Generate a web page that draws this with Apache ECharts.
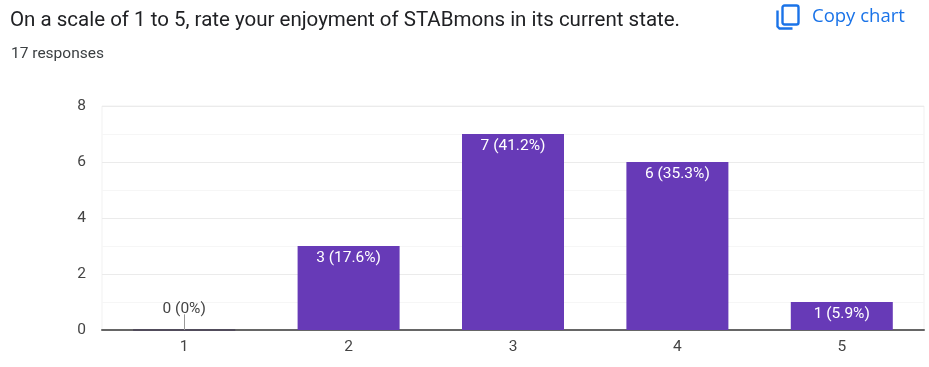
<!DOCTYPE html>
<html>
<head>
<meta charset="utf-8">
<style>
html,body{margin:0;padding:0;background:#fff;}
#main{width:929px;height:367px;}
</style>
<script src="https://cdn.jsdelivr.net/npm/echarts@6/dist/echarts.min.js"></script>
</head>
<body>
<div id="main"></div>
<script>
var categories = ['1', '2', '3', '4', '5'];
var responses = [0, 3, 7, 6, 1];
var barLabels = ['0 (0%)', '3 (17.6%)', '7 (41.2%)', '6 (35.3%)', '1 (5.9%)'];
var stemHeight = [0.56];
var titleText = 'On a scale of 1 to 5, rate your enjoyment of STABmons in its current state.';
var subText = '17 responses';

var myChart = echarts.init(document.getElementById('main'), null, {renderer: 'canvas'});

var barData = responses.map(function (v, i) {
    if (v === 0) {
        return {
            value: v,
            itemStyle: {borderColor: '#4a4458', borderWidth: 1},
            label: {position: 'top', distance: 12, color: '#444'}
        };
    }
    return v;
});

var option = {
    animation: false,
    textStyle: {fontFamily: 'Roboto'},
    graphic: [
        {type: 'text', left: 10, top: 10, style: {text: titleText, fill: '#202124',
            font: '20.5px Roboto'}},
        {type: 'text', left: 11, top: 46, style: {text: subText, fill: '#3c4043',
            font: '15.5px Roboto'}},
        {type: 'rect', left: 780, top: 3, shape: {width: 16, height: 19, r: 2},
            style: {fill: 'none', stroke: '#1a73e8', lineWidth: 2.4}},
        {type: 'polyline', left: 775, top: 8, shape: {points: [[1, 0], [1, 16], [3, 18], [16, 18]]},
            style: {fill: 'none', stroke: '#1a73e8', lineWidth: 2.4}},
        {type: 'text', left: 812, top: 7, style: {text: 'Copy chart', fill: '#1a73e8',
            font: '500 18.5px "Open Sans"'}}
    ],
    grid: {left: 102, right: 5, top: 106, bottom: 37, show: true, borderColor: '#f1f1f1', borderWidth: 1},
    xAxis: {
        type: 'category',
        data: categories,
        axisTick: {show: false},
        axisLine: {lineStyle: {color: '#666', width: 2}},
        axisLabel: {color: '#444', fontSize: 15.5, margin: 9}
    },
    yAxis: {
        type: 'value',
        min: 0,
        max: 8,
        interval: 2,
        axisLine: {show: false},
        axisTick: {show: false},
        axisLabel: {color: '#444', fontSize: 15.5, margin: 16},
        splitLine: {lineStyle: {color: '#ebebeb', width: 1}},
        minorTick: {show: false, splitNumber: 2},
        minorSplitLine: {show: true, lineStyle: {color: '#f6f6f6', width: 1}}
    },
    series: [{
        type: 'bar',
        data: barData,
        barWidth: 102,
        itemStyle: {color: '#673ab7'},
        label: {
            show: true,
            position: 'insideTop',
            distance: 4,
            color: '#fff',
            fontSize: 15.5,
            formatter: function (p) { return barLabels[p.dataIndex]; }
        },
        markLine: {
            silent: true,
            symbol: 'none',
            label: {show: false},
            lineStyle: {color: '#999', width: 1, type: 'solid'},
            data: [[{coord: [categories[0], 0]}, {coord: [categories[0], stemHeight[0]]}]]
        }
    }]
};
myChart.setOption(option);
</script>
</body>
</html>
